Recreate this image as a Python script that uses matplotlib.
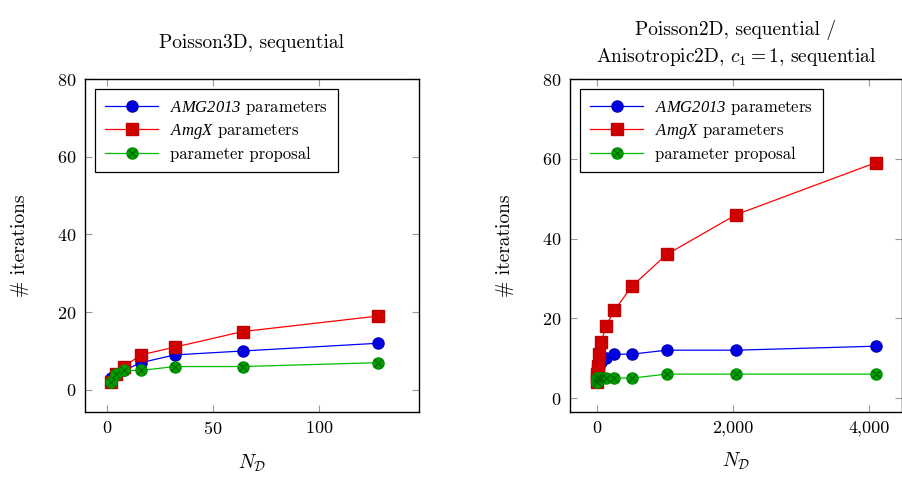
import numpy as np
import matplotlib
matplotlib.use("Agg")
import matplotlib.pyplot as plt
from matplotlib.lines import Line2D
from matplotlib.font_manager import FontProperties

plt.rcParams['font.family'] = ['cmr10', 'DejaVu Serif']
plt.rcParams['mathtext.fontset'] = 'cm'
# used only by the legend (math_fontfamily='custom') for the italic package names
plt.rcParams['mathtext.rm'] = 'Liberation Serif:italic'
plt.rcParams['axes.formatter.use_mathtext'] = True

# Poisson3D, sequential
n3d = [2, 4, 8, 16, 32, 64, 128]
amg2013_3d = [3, 4, 5, 7, 9, 10, 12]
amgx_3d = [2, 4, 6, 9, 11, 15, 19]
proposal_3d = [2, 4, 5, 5, 6, 6, 7]

# Poisson2D / Anisotropic2D, sequential
n2d = [1, 2, 4, 8, 16, 32, 64, 128, 256, 512, 1024, 2048, 4096]
amg2013_2d = [5, 6, 6, 7, 7, 8, 9, 10, 11, 11, 12, 12, 13]
amgx_2d = [4, 5, 6, 7, 8, 11, 14, 18, 22, 28, 36, 46, 59]
proposal_2d = [4, 4, 5, 5, 5, 5, 5, 5, 5, 5, 6, 6, 6]

labels = [r'$\mathrm{AMG2013}$ parameters', r'$\mathrm{AmgX}$ parameters', 'parameter proposal']

BLUE = '#0000ff'
RED = '#ff0000'
GREEN = '#00bf00'


def draw(ax, x, a, b, c):
    ax.plot(x, a, '-', color=BLUE, lw=0.9, marker='o', ms=8,
            mfc='#0000e0', mec='#0000c0', zorder=3)
    ax.plot(x, b, '-', color=RED, lw=0.9, marker='s', ms=8,
            mfc='#d00000', mec='#c00000', zorder=4)
    ax.plot(x, c, '-', color=GREEN, lw=0.9, marker='o', ms=8,
            mfc='#00a000', mec='#009000', zorder=5)
    ax.plot(x, c, 'x', color='#006a00', ms=5.5, mew=0.9, zorder=6)
    ax.tick_params(direction='in', length=5, width=0.8, color='#999999',
                   top=True, right=True, labelsize=13, pad=6)
    for s in ax.spines.values():
        s.set_linewidth(1.0)
    handles = [
        Line2D([], [], color=BLUE, lw=0.9, marker='o', ms=8, mfc='#0000e0', mec='#0000c0'),
        Line2D([], [], color=RED, lw=0.9, marker='s', ms=8, mfc='#d00000', mec='#c00000'),
        (Line2D([], [], color=GREEN, lw=0.9, marker='o', ms=8, mfc='#00a000', mec='#009000'),
         Line2D([], [], ls='none', marker='x', ms=5.5, mew=0.9, color='#006a00')),
    ]
    fp = FontProperties(family='cmr10', size=12, math_fontfamily='custom')
    leg = ax.legend(handles, labels, loc='upper left', prop=fp,
                    fancybox=False, edgecolor='black', framealpha=1,
                    bbox_to_anchor=(0.03, 0.97), borderaxespad=0,
                    handlelength=3.2, handletextpad=0.7,
                    borderpad=0.6, labelspacing=0.32)
    leg.get_frame().set_linewidth(0.9)
    ax.set_ylabel('# iterations', fontsize=14, labelpad=20)
    ax.set_xlabel(r'$N_{\mathcal{D}}$', fontsize=14, labelpad=11)
    ax.set_yticks([0, 20, 40, 60, 80])


fig = plt.figure(figsize=(9.03, 4.79), dpi=100)
W, H = 903, 479
ax1 = fig.add_axes([85 / W, 1 - 412 / H, (419 - 85) / W, (412 - 79) / H])
ax2 = fig.add_axes([570 / W, 1 - 412 / H, (902 - 570) / W, (412 - 79) / H])

draw(ax1, n3d, amg2013_3d, amgx_3d, proposal_3d)
ax1.set_xlim(-10.4, 147.2)
ax1.set_ylim(-5.7, 80)
ax1.set_xticks([0, 50, 100])
ax1.set_title('Poisson3D, sequential', fontsize=14, pad=22)

draw(ax2, n2d, amg2013_2d, amgx_2d, proposal_2d)
ax2.set_xlim(-397, 4485)
ax2.set_ylim(-3.5, 80)
ax2.set_xticks([0, 2000, 4000])
ax2.set_xticklabels(['0', '2,000', '4,000'])
ax2.set_title('Poisson2D, sequential /\nAnisotropic2D, $c_1 = 1$, sequential',
              fontsize=14, pad=12, linespacing=1.4)

fig.savefig('out.png', dpi=100)
